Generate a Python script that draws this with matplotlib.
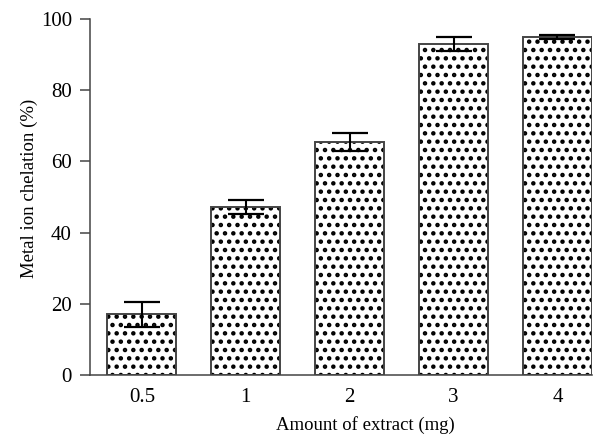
import numpy as np
import matplotlib.pyplot as plt

plt.rcParams['font.family'] = ['Liberation Serif', 'DejaVu Serif']
plt.rcParams['hatch.linewidth'] = 2.0

amounts = ['0.5', '1', '2', '3', '4']
chelation = [17.0, 47.2, 65.5, 93.0, 95.0]
errors = [3.5, 2.0, 2.5, 2.0, 0.5]

fig = plt.figure(figsize=(6, 4.38), dpi=100)
ax = fig.add_axes([0.15, 0.1438, 0.837, 0.8128])

x = np.arange(len(amounts))
# hatch drawn in black, outline drawn on top in dark gray
ax.bar(x, chelation, width=0.665, color='white', edgecolor='black',
       linewidth=0, hatch='..', zorder=2)
ax.bar(x, chelation, width=0.665, color='none', edgecolor='#444444',
       linewidth=1.4, zorder=2.5)
ax.errorbar(x, chelation, yerr=errors, fmt='none', ecolor='black',
            elinewidth=1.5, capsize=13, capthick=1.6, zorder=3)

ax.set_xlim(-0.5, 4.335)
ax.set_ylim(0, 100)
ax.set_xticks(x)
ax.set_xticklabels(amounts)
ax.set_yticks([0, 20, 40, 60, 80, 100])
ax.tick_params(axis='x', length=0, pad=9, labelsize=15)
ax.tick_params(axis='y', length=7, width=1.1, color='#444444', labelsize=15, pad=6)

for side in ['top', 'right']:
    ax.spines[side].set_visible(False)
for side in ['left', 'bottom']:
    ax.spines[side].set_color('#444444')
    ax.spines[side].set_linewidth(1.1)

ax.set_ylabel('Metal ion chelation (%)', fontsize=13.5)
ax.yaxis.set_label_coords(-0.104, 0.525)
ax.set_xlabel('Amount of extract (mg)', fontsize=13.5)
ax.xaxis.set_label_coords(0.548, -0.115)

fig.savefig('out.png', dpi=100)
